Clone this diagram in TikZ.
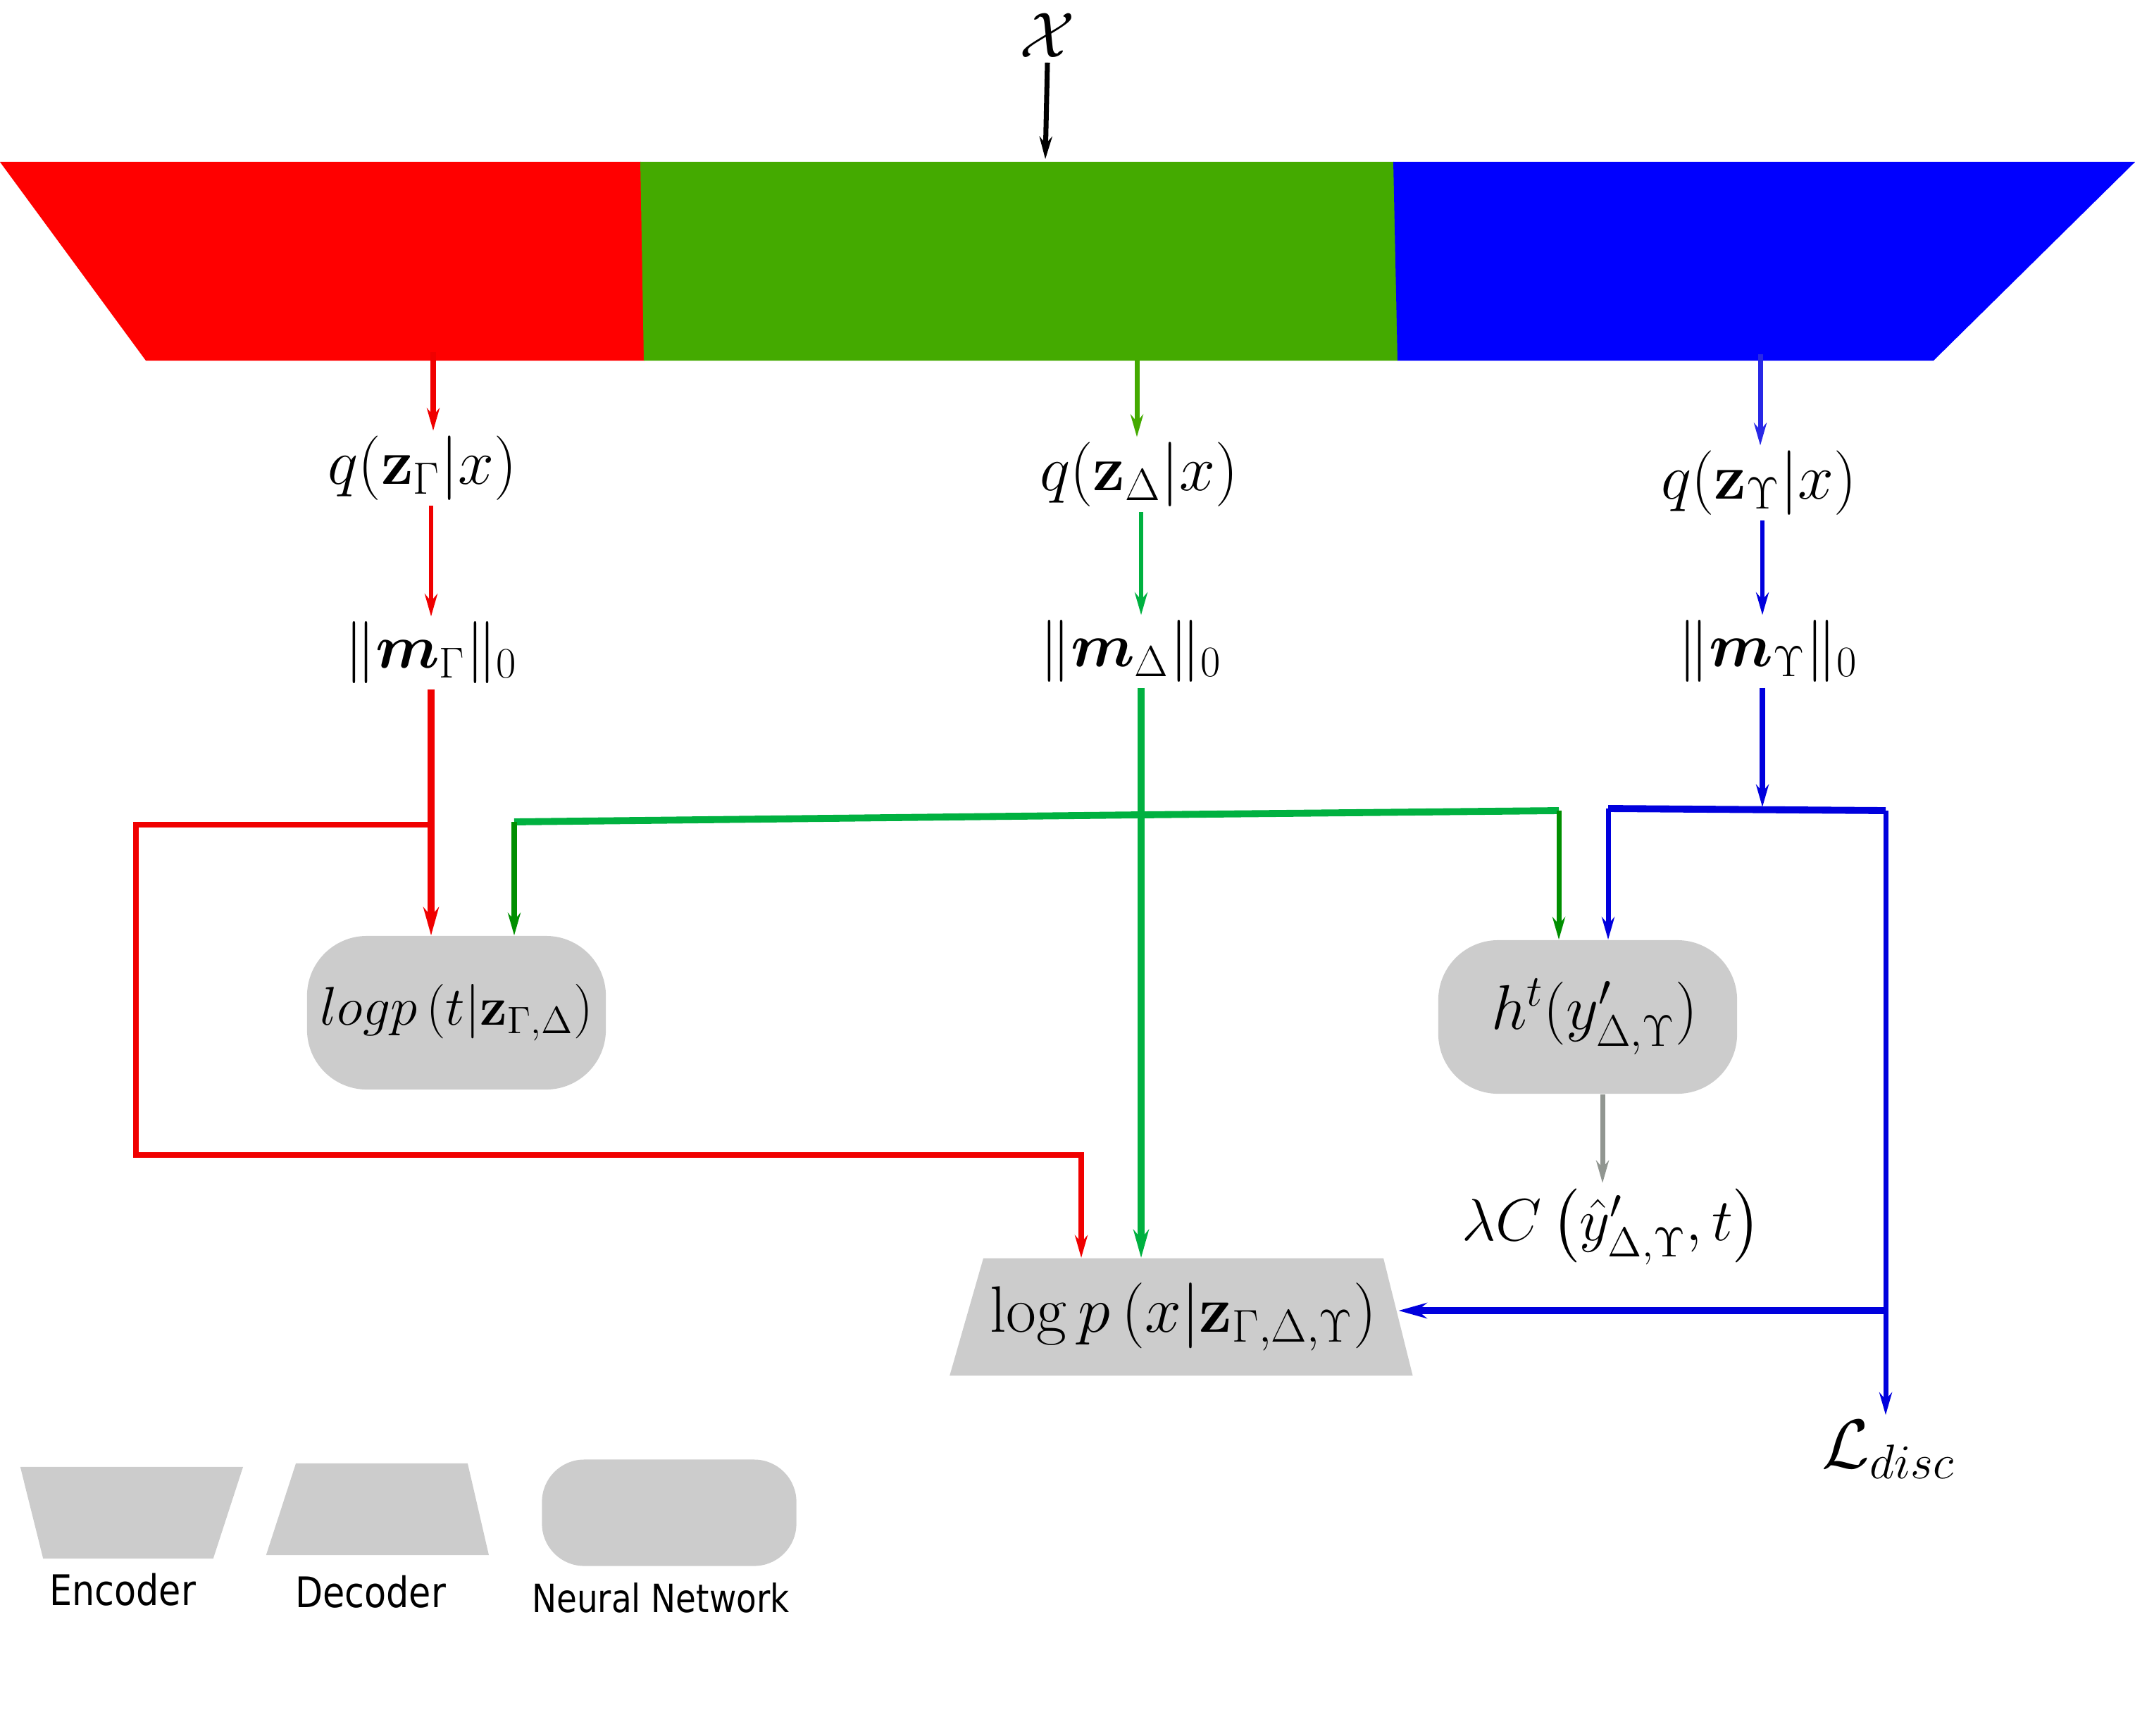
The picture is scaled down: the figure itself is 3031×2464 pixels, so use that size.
\RequirePackage{fix-cm}
\documentclass[tikz,border=0pt]{standalone}
\usepackage{amsmath}
\usepackage[no-math]{fontspec}
\newfontfamily\legendfont[FakeStretch=0.85]{DejaVu Sans}
\usepackage{xcolor}
\usepackage{tikz}
\usetikzlibrary{shapes.geometric, arrows.meta, positioning}
\definecolor{encred}{RGB}{255,0,0}
\definecolor{encgreen}{RGB}{68,170,0}
\definecolor{encblue}{RGB}{0,0,255}
\definecolor{linkred}{RGB}{240,0,0}
\definecolor{linkgreen}{RGB}{0,177,64}
\definecolor{dropgreen}{RGB}{0,143,0}
\definecolor{linkblue}{RGB}{0,0,221}
\definecolor{paleblue}{RGB}{40,40,230}
\definecolor{costgray}{RGB}{145,150,145}
\definecolor{boxgray}{RGB}{204,204,204}

\begin{document}
\begin{tikzpicture}[
    x=0.01cm, y=-0.01cm,
    lbl/.style={inner sep=2pt, font=\fontsize{25}{30}\selectfont},
    nnbox/.style={rectangle, rounded corners=0.85cm, fill=boxgray, minimum width=4.24cm, minimum height=2.18cm, inner sep=0pt},
    decbox/.style={trapezium, trapezium stretches body=true, fill=boxgray, inner xsep=0pt},
    arrow/.style={-{Stealth[length=0.32cm, width=0.18cm]}, line width=2pt},
    bigarrow/.style={-{Stealth[length=0.4cm, width=0.22cm]}, line width=2.6pt},
    bus/.style={line width=2.8pt},
    legend/.style={font=\legendfont\fontsize{17}{20}\selectfont, inner sep=2pt}
]
\useasboundingbox (0,0) rectangle (3031,2464);

% Encoder bar
\fill[encred] (0,230) -- (910,230) -- (915,512) -- (207,512) -- cycle;
\fill[encgreen] (909,230) -- (1979,230) -- (1985,512) -- (914,512) -- cycle;
\fill[encblue] (1978,230) -- (3031,230) -- (2745,512) -- (1984,512) -- cycle;

% Input
\node[lbl, font=\fontsize{26}{31}\selectfont] (xin) at (1487,50) {$\mathcal{X}$};
\coordinate (xIn) at (1484,226);
\draw[arrow, black] (xin.south) -- (xIn);

% Posteriors and masks
\node[lbl, font=\fontsize{26}{31}\selectfont] (qG) at (600,665) {$q(\mathbf{z}_{\Gamma}|x)$};
\node[lbl, font=\fontsize{26}{31}\selectfont] (qD) at (1617,674) {$q(\mathbf{z}_{\Delta}|x)$};
\node[lbl, font=\fontsize{26}{31}\selectfont] (qU) at (2497,686) {$q(\mathbf{z}_{\Upsilon}|x)$};
\node[lbl] (mG) at (612,927) {$\|\boldsymbol{m}_{\Gamma}\|_0$};
\node[lbl] (mD) at (1605,925) {$\|\boldsymbol{m}_{\Delta}\|_0$};
\node[lbl] (mU) at (2510,925) {$\|\boldsymbol{m}_{\Upsilon}\|_0$};

% Networks
\node[nnbox, font=\fontsize{22}{26}\selectfont] (logp) at (648,1438) {$logp\left(t|\mathbf{z}_{\Gamma,\Delta}\right)$};
\node[nnbox, font=\fontsize{25.5}{30}\selectfont] (hbox) at (2254,1444) {\hspace{0.2cm}$h^{t}(y'_{\Delta,\Upsilon})$};
\node[lbl, font=\fontsize{24}{30}\selectfont] (lam) at (2288,1742) {$\lambda C\left(\hat{y}'_{\Delta,\Upsilon},t\right)$};
\node[decbox, trapezium left angle=74, trapezium right angle=76, minimum width=6.57cm, inner ysep=0.35cm,
      font=\fontsize{26.5}{31}\selectfont] (dec) at (1680,1870) {$\log p\left(x|\mathbf{z}_{\Gamma,\Delta,\Upsilon}\right)$};
\node[lbl, font=\fontsize{28}{32}\selectfont] (Ldisc) at (2681,2058) {$\mathcal{L}_{disc}$};

% Branch points
\coordinate (rOut) at (615,500);
\coordinate (gOut) at (1614,495);
\coordinate (bOut) at (2499,503);
\coordinate (rBr) at (612,1171);
\coordinate (rL) at (193,1640);
\coordinate (rT) at (1535,1640);
\coordinate (gBr) at (1620,1157);
\coordinate (gL) at (730,1167);
\coordinate (gR) at (2213,1151);
\coordinate (bBr) at (2502,1146);
\coordinate (bL) at (2283,1148);
\coordinate (bR) at (2677,1151);
\coordinate (bJ) at (2677,1861);
\coordinate (gArr) at ([xshift=0.21cm]hbox.south);

% Encoder outputs
\draw[arrow, linkred] (rOut) -- (rOut |- qG.north);
\draw[arrow, encgreen] (gOut) -- (gOut |- qD.north);
\draw[arrow, paleblue] (bOut) -- (bOut |- qU.north);

\draw[arrow, linkred, line width=1.8pt] (qG.south -| mG) -- (mG.north);
\draw[arrow, linkgreen, line width=1.8pt] (qD.south -| gBr) -- (gBr |- mD.north);
\draw[arrow, linkblue, line width=1.8pt] (qU.south -| bBr) -- (bBr |- mU.north);

% Red path
\draw[bigarrow, linkred] (mG.south) -- (mG.south |- logp.north);
\draw[arrow, linkred, line width=2.4pt] (rBr) -| (rL) -- (rT) -- (rT |- dec.north);

% Green path
\draw[bigarrow, linkgreen] (mD.south -| gBr) -- (gBr |- dec.north);
\draw[bus, linkgreen] (gBr) -- (gL);
\draw[bus, linkgreen] (gBr) -- (gR);
\draw[arrow, dropgreen] (gL) -- (gL |- logp.north);
\draw[arrow, dropgreen] (gR) -- (gR |- hbox.north);

% Blue path
\draw[arrow, linkblue, line width=2.4pt] (mU.south -| bBr) -- (bBr);
\draw[bus, linkblue] (bL) -- (bR);
\draw[arrow, linkblue] (bL) -- (bL |- hbox.north);
\draw[arrow, linkblue] (bR) -- (bR |- Ldisc.north);
\draw[bigarrow, linkblue] (bJ) -- (bJ -| dec.east);

% Cost
\draw[arrow, costgray] (gArr) -- (gArr |- lam.north);

% Legend
\node[decbox, trapezium left angle=104, trapezium right angle=108, minimum width=3.16cm, inner ysep=0.65cm] (encLeg) at (182,2148) {};
\node[decbox, trapezium left angle=72, trapezium right angle=77, minimum width=3.16cm, inner ysep=0.65cm] (decLeg) at (542,2143) {};
\node[nnbox, minimum width=3.61cm, minimum height=1.51cm, rounded corners=0.6cm] (nnLeg) at (950,2148) {};
\node[legend, below=0.13cm of encLeg, xshift=-0.08cm] (encTxt) {Encoder};
\node[legend, below=0.21cm of decLeg, xshift=-0.16cm] (decTxt) {Decoder};
\node[legend, font=\legendfont\fontsize{15.7}{19}\selectfont, below=0.16cm of nnLeg, xshift=-0.12cm] (nnTxt) {Neural Network};

\end{tikzpicture}
\end{document}
